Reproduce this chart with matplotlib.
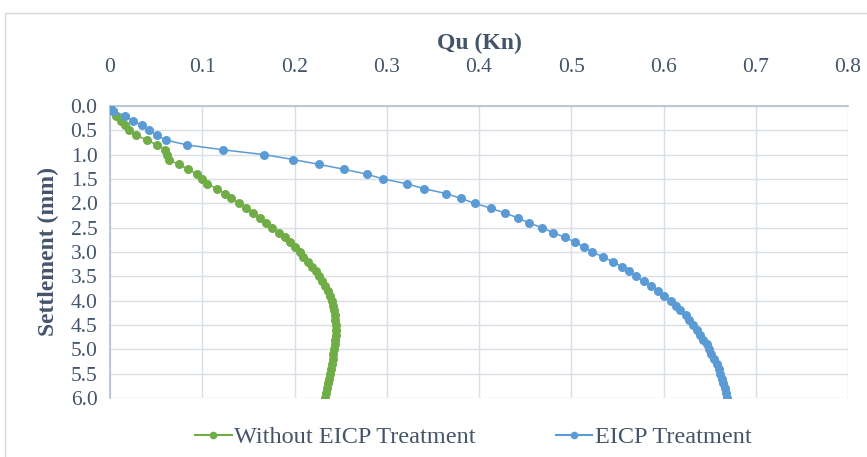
import matplotlib
matplotlib.use("Agg")
import matplotlib.pyplot as plt
import matplotlib.patches as mpatches
from matplotlib.lines import Line2D

settlement = [round(i * 0.1, 1) for i in range(61)]

qu_without = [
    0.000, 0.003, 0.007, 0.012, 0.016, 0.021, 0.028, 0.040, 0.051, 0.060,
    0.0615, 0.0636, 0.0745, 0.0846, 0.0946, 0.0997, 0.1055, 0.1157, 0.1243, 0.1315,
    0.1402, 0.1474, 0.1547, 0.1626, 0.1691, 0.1756, 0.1829, 0.1894, 0.1951, 0.2009,
    0.2060, 0.2095, 0.2145, 0.2190, 0.2230, 0.2265, 0.2300, 0.2335, 0.2360, 0.2385,
    0.2405, 0.2420, 0.2428, 0.2436, 0.2442, 0.2445, 0.2445, 0.2445, 0.2442, 0.2436,
    0.2430, 0.2422, 0.2414, 0.2402, 0.2392, 0.2380, 0.2371, 0.2363, 0.2352, 0.2343,
    0.2333,
]

qu_eicp = [
    0.000, 0.0036, 0.0159, 0.0245, 0.0346, 0.0418, 0.0511, 0.0605, 0.0835, 0.1224,
    0.1674, 0.1987, 0.2268, 0.2535, 0.2783, 0.2962, 0.3221, 0.3405, 0.3644, 0.3806,
    0.3955, 0.4128, 0.4283, 0.4424, 0.4540, 0.4681, 0.4803, 0.4930, 0.5045, 0.5139,
    0.5229, 0.5344, 0.5452, 0.5547, 0.5626, 0.5705, 0.5785, 0.5864, 0.5944, 0.6002,
    0.6078, 0.6132, 0.6182, 0.6241, 0.6280, 0.6323, 0.6363, 0.6396, 0.6425, 0.6468,
    0.6493, 0.6518, 0.6547, 0.6577, 0.6598, 0.6612, 0.6634, 0.6648, 0.6670, 0.6678,
    0.6692,
]

x_ticks = [0, 0.1, 0.2, 0.3, 0.4, 0.5, 0.6, 0.7, 0.8]
x_tick_labels = ["0", "0.1", "0.2", "0.3", "0.4", "0.5", "0.6", "0.7", "0.8"]
y_ticks = [i * 0.5 for i in range(13)]
y_tick_labels = [f"{v:.1f}" for v in y_ticks]

series_names = ["Without EICP Treatment", "EICP Treatment"]
GREEN = "#70AD47"
BLUE = "#5B9BD5"
TEXT = "#44546A"
GRID = "#D9DDE4"

plt.rcParams["font.family"] = ["Liberation Serif", "DejaVu Serif"]

fig = plt.figure(figsize=(8.67, 4.57), dpi=100)
ax = fig.add_axes([110 / 867, 1 - 398 / 457, (848 - 110) / 867, (398 - 106) / 457])

ax.plot(qu_without, settlement, color=GREEN, lw=1.1, marker="o", ms=6.5,
        markeredgewidth=0, label=series_names[0], zorder=3)
ax.plot(qu_eicp, settlement, color=BLUE, lw=1.1, marker="o", ms=6.5,
        markeredgewidth=0, label=series_names[1], zorder=3)

ax.set_xlim(0, 0.8)
ax.set_ylim(6.0, 0.0)
ax.xaxis.tick_top()
ax.xaxis.set_label_position("top")
ax.set_xticks(x_ticks)
ax.set_xticklabels(x_tick_labels)
ax.set_yticks(y_ticks)
ax.set_yticklabels(y_tick_labels)
ax.tick_params(axis="both", length=0, labelsize=15.5, colors=TEXT)
ax.tick_params(axis="x", pad=21)
ax.tick_params(axis="y", pad=9)
ax.grid(True, color=GRID, lw=1.0)
ax.set_axisbelow(True)
for s in ["right", "bottom"]:
    ax.spines[s].set_visible(False)
for s in ["top", "left"]:
    ax.spines[s].set_color("#B4C0D0")
    ax.spines[s].set_linewidth(1.2)

ax.set_xlabel("Qu (Kn)", fontsize=17, fontweight="bold", color=TEXT, labelpad=6)
ax.set_ylabel("Settlement (mm)", fontsize=17, fontweight="bold", color=TEXT, labelpad=8)

handles = [
    Line2D([0], [0], color=GREEN, lw=1.5, marker="o", ms=5.5, markeredgewidth=0),
    Line2D([0], [0], color=BLUE, lw=1.5, marker="o", ms=5.5, markeredgewidth=0),
]
leg = fig.legend(handles, series_names, loc="center", bbox_to_anchor=(0.546, 1 - 437 / 457),
                 ncol=2, frameon=False, fontsize=17.5, handlelength=1.5, handletextpad=0.1,
                 columnspacing=3.3)
for t in leg.get_texts():
    t.set_color(TEXT)

border = mpatches.Rectangle((5 / 867, -0.2), 2.0, 1.2 - 13 / 457, transform=fig.transFigure,
                            fill=False, edgecolor="#D9D9D9", lw=1.0, clip_on=False)
fig.patches.append(border)

fig.savefig("out.png", dpi=100)
